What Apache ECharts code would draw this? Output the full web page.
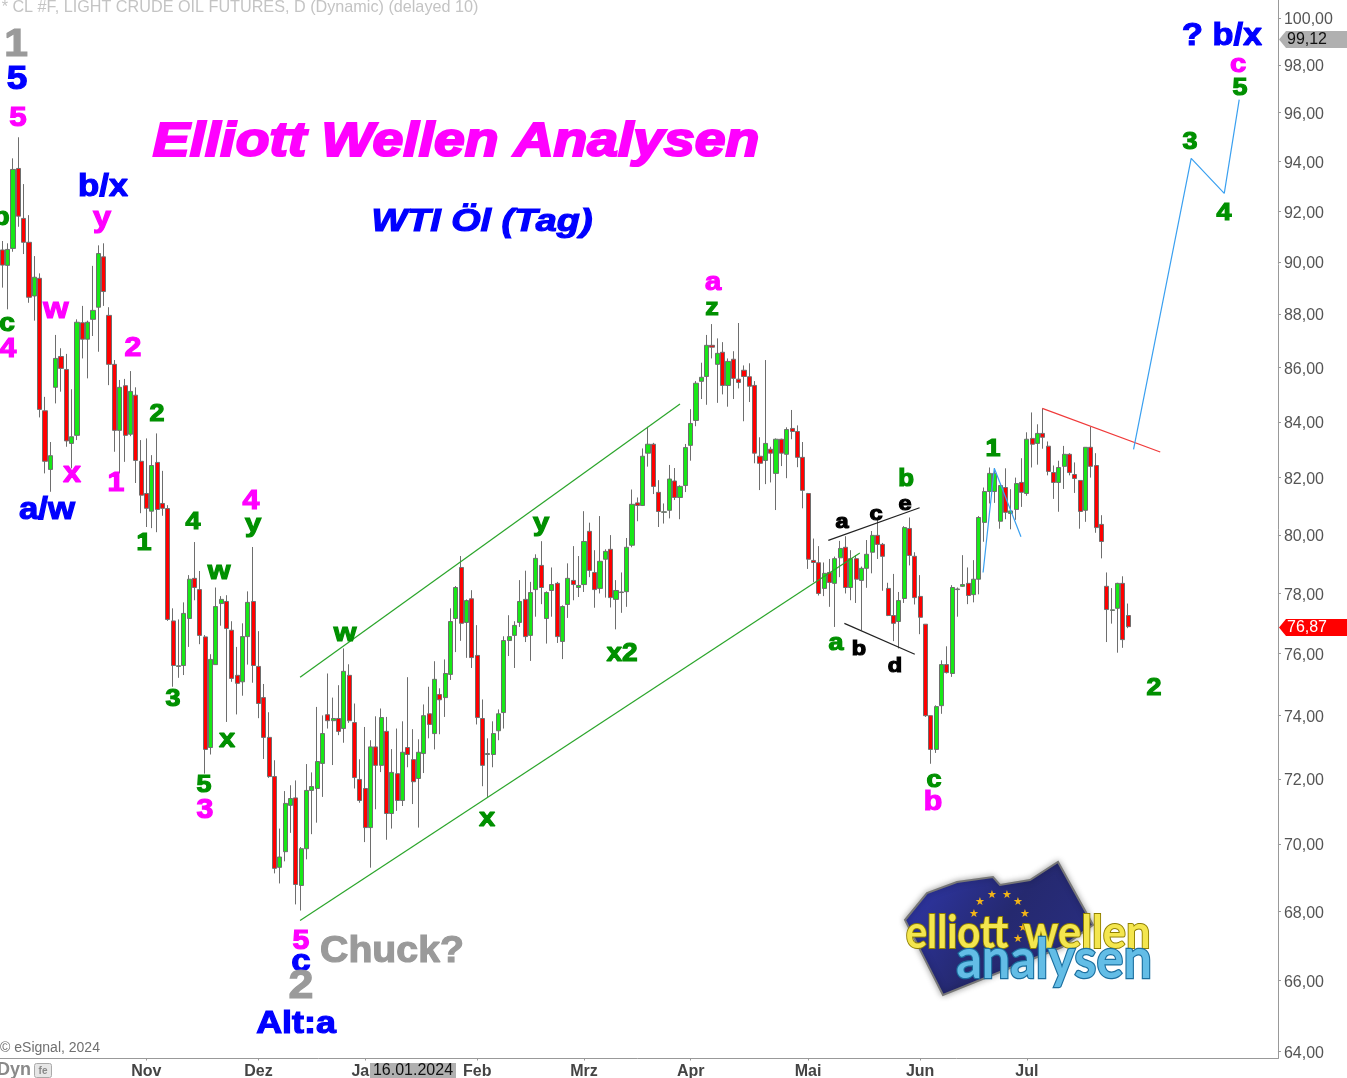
<!DOCTYPE html>
<html><head><meta charset="utf-8">
<style>html,body{margin:0;padding:0;background:#fff;overflow:hidden}#c{width:1347px;height:1078px}</style>
<script src="https://cdn.jsdelivr.net/npm/echarts@6/dist/echarts.min.js"></script>
</head><body><div id="c"></div>
<script>
const opens=[
90.47,89.87,90.53,93.71,91.71,90.77,88.69,89.37,84.40,82.29,
85.26,86.40,85.92,83.22,83.51,87.67,87.05,87.80,88.26,90.20,
87.95,86.11,83.69,85.32,83.55,84.97,82.58,81.44,80.82,82.54,
81.09,80.91,77.08,75.58,75.61,77.16,78.51,78.13,76.55,72.98,
75.64,77.66,77.73,76.77,75.29,75.08,76.56,77.73,75.58,74.57,
73.30,72.07,69.30,69.77,71.18,71.41,68.76,69.86,71.64,71.70,
72.48,74.02,73.83,73.90,73.58,75.29,73.77,71.98,71.70,70.50,
73.00,72.42,73.49,70.93,72.16,71.33,72.98,72.60,72.01,72.79,
74.05,73.42,74.67,74.57,75.32,77.16,78.88,77.03,77.82,75.94,
73.90,72.76,72.76,73.51,74.09,76.43,76.60,77.03,77.80,76.60,
78.13,78.95,77.16,78.10,78.34,76.40,77.63,78.44,78.20,78.30,
80.12,78.71,78.17,79.16,79.50,77.80,78.03,78.06,79.64,81.11,
81.02,82.87,83.19,81.48,80.78,80.85,81.88,81.30,81.72,83.15,
84.05,85.48,85.66,86.82,86.11,86.56,85.33,86.30,85.56,85.89,
85.65,85.33,82.76,82.61,83.01,82.15,83.37,82.83,83.76,83.65,
82.72,81.44,79.12,79.04,78.17,78.71,78.34,79.21,79.57,78.20,
79.18,78.44,78.85,79.40,79.98,79.67,78.17,77.26,77.06,77.83,
80.22,79.26,77.90,76.97,73.99,72.92,74.31,75.64,75.35,78.13,
78.24,78.34,77.96,78.48,80.43,81.51,81.51,80.47,81.65,80.74,
80.88,81.83,81.44,83.40,83.22,83.58,83.12,82.18,81.83,82.40,
82.83,82.11,81.90,80.85,83.08,82.43,80.36,78.24,77.43,77.50,
78.34,77.26];
const closes=[
89.88,90.49,93.67,91.80,90.77,88.64,89.41,84.45,82.58,82.78,
86.33,85.96,83.31,83.46,87.69,87.05,87.69,88.14,90.33,88.86,
86.11,83.69,85.26,83.51,85.11,82.61,81.38,80.92,82.43,80.88,
80.92,77.13,75.61,75.60,77.33,78.48,78.20,76.60,72.92,75.81,
77.56,77.80,76.83,75.19,75.03,76.56,77.70,75.61,74.38,73.30,
72.07,69.27,69.61,71.24,71.39,68.79,69.86,71.64,71.76,72.54,
73.42,73.83,73.90,73.49,75.42,73.83,72.04,71.33,70.50,73.00,
72.42,73.93,70.93,72.20,71.33,72.83,72.76,71.91,72.83,73.99,
73.71,75.16,74.50,75.35,77.06,78.20,77.00,77.76,75.87,73.93,
72.42,72.79,73.42,74.05,76.43,76.56,76.93,77.73,76.56,78.03,
79.19,78.20,78.03,78.30,76.56,77.56,78.51,78.30,78.27,79.77,
78.78,78.13,79.09,79.43,77.86,78.10,78.05,79.57,81.06,81.02,
82.76,83.19,81.69,80.81,80.80,81.95,81.30,81.69,83.07,83.94,
85.41,85.63,86.82,86.75,86.52,85.33,86.22,85.59,85.44,85.66,
85.30,82.87,82.51,83.22,82.87,83.37,82.87,83.72,83.65,82.72,
81.55,79.16,79.05,78.00,78.68,78.37,79.18,79.53,78.20,79.18,
78.48,78.85,79.33,79.98,79.67,79.26,77.26,77.00,77.76,80.25,
79.29,77.86,77.20,73.99,72.92,74.28,75.64,75.38,78.20,78.15,
78.30,77.93,78.48,80.60,81.51,82.15,82.15,81.72,80.78,80.83,
81.79,81.48,83.37,83.19,83.58,83.44,82.22,81.83,82.36,82.83,
82.18,81.97,80.81,83.08,82.40,80.25,79.77,77.46,77.45,78.34,
76.46,76.89];
const highs=[
90.82,90.73,94.12,94.98,93.08,91.84,90.23,89.56,84.91,83.27,
87.21,86.71,86.50,85.19,87.80,88.31,87.75,89.85,90.65,90.73,
88.26,86.27,85.53,85.57,85.86,85.26,83.34,83.40,82.80,83.58,
82.24,81.03,77.50,77.13,77.70,78.62,79.75,78.76,76.61,75.98,
78.20,77.91,77.94,77.07,76.22,77.00,78.07,79.58,76.74,75.01,
74.10,72.58,70.47,71.62,71.80,71.95,69.91,72.46,72.20,74.27,
74.00,75.35,74.57,74.97,76.17,75.65,74.38,72.61,73.63,73.21,
73.97,74.22,73.95,72.93,73.58,73.81,75.23,73.56,73.24,74.35,
74.92,75.75,74.87,75.81,77.50,78.25,79.27,77.80,78.11,76.94,
74.51,73.27,73.81,74.19,76.57,77.27,77.07,78.45,78.77,78.39,
79.33,79.78,78.07,78.88,78.39,77.60,79.02,79.61,79.27,80.82,
80.42,79.47,80.65,79.50,79.99,78.45,78.71,79.89,81.58,81.30,
83.04,83.82,83.24,81.91,81.09,82.45,82.34,81.73,83.20,84.46,
85.49,86.17,87.21,87.62,87.08,86.94,86.33,86.60,87.66,86.07,
86.15,85.49,83.44,86.27,83.10,83.40,83.39,83.80,84.43,83.87,
83.27,81.46,79.87,79.61,79.05,79.17,79.25,79.79,79.95,79.47,
79.30,78.91,79.82,80.13,80.57,79.72,78.36,78.66,78.05,80.30,
80.60,79.40,78.62,76.97,73.99,74.32,75.78,76.24,78.28,78.20,
79.30,78.88,79.13,80.65,81.65,82.36,82.33,81.73,82.33,81.59,
82.00,82.69,83.62,84.34,83.91,84.49,83.29,82.43,82.60,83.13,
82.87,82.54,81.91,83.08,83.82,82.87,80.68,78.71,78.18,78.36,
78.58,77.66];
const lows=[
89.01,88.18,90.40,91.38,90.31,88.43,87.75,84.16,82.15,81.50,
84.67,85.10,83.10,82.33,83.34,86.33,85.59,87.17,86.58,88.31,
85.34,82.92,82.15,82.56,83.48,81.81,80.75,80.27,80.23,80.09,
80.66,77.08,74.92,75.21,75.30,76.22,77.77,76.31,72.16,72.76,
75.64,76.92,73.79,75.08,74.03,74.63,75.64,75.05,73.91,72.62,
72.03,69.12,68.82,69.48,70.34,68.20,68.02,69.54,70.30,70.65,
71.44,73.58,72.43,73.37,73.13,73.76,71.70,71.26,70.06,69.29,
71.06,72.21,70.13,70.47,71.01,71.16,72.36,71.22,70.50,72.18,
73.27,72.92,73.40,73.95,75.14,76.05,76.42,75.86,75.53,73.71,
71.77,71.44,72.36,73.21,73.58,75.92,75.53,76.88,76.38,75.76,
77.22,77.64,76.33,77.22,76.35,75.82,77.18,77.77,77.88,78.05,
78.55,77.52,78.00,77.86,77.53,76.80,77.35,77.55,79.57,80.47,
81.00,82.39,81.42,80.27,80.39,80.57,81.21,80.54,81.49,82.60,
83.84,84.83,84.62,86.33,84.69,85.00,84.55,84.83,85.22,84.02,
84.72,82.51,81.56,81.77,81.83,80.86,82.41,81.98,83.37,82.37,
80.92,78.83,78.38,77.93,77.91,77.55,76.88,78.55,78.00,77.77,
77.68,76.77,78.19,78.68,79.17,78.09,77.24,76.41,76.17,77.68,
78.95,77.63,76.64,73.95,72.47,72.81,74.05,75.35,75.24,77.22,
78.22,77.64,77.70,77.97,79.76,81.09,81.11,80.21,80.54,80.19,
80.52,80.97,81.36,82.36,82.46,83.03,82.08,81.25,80.80,81.60,
82.08,81.46,80.21,80.45,82.00,80.07,79.19,76.38,76.99,76.03,
76.19,76.84];

const monthTicks=[27,48,68,89,109,129,151,172,192];
const monthNames=['Nov','Dez','Jan','Feb','Mrz','Apr','Mai','Jun','Jul'];
const priceTicks=[64,66,68,70,72,74,76,78,80,82,84,86,88,90,92,94,96,98,100];
const slots=239;

// trend lines: [bar position, price]
const channelUpper=[[55.8,75.23],[127,84.65]];
const channelLower=[[55.8,67.73],[160.7,79.37]];
const triangleUpper=[[154.8,79.81],[171.9,80.94]];
const triangleLower=[[157.8,77.00],[171,75.98]];
const waveOne=[[183.8,78.71],[185.9,82.33],[190.9,79.93]];
const resistance=[[194.9,84.49],[217,82.91]];
const projection=[[212,83.01],[222.8,94.12],[229,92.71],[231.8,96.54]];

const M='#ff00ff',B='#0000ff',G='#009000',K='#000000',Y='#9a9a9a';
const waveLabels=[
['1',16,44,Y,38],['5',17,78,B,33],['5',18,116,M,28],['b',1,216,G,25],['c',7,322,G,25],['4',8,348,M,27],
['b/x',103,185,B,31],['y',102,217,M,29],['w',56,308,M,29],['2',133,347,M,27],['2',157,412,G,24],
['x',72,472,M,29],['1',116,482,M,27],['a/w',47,508,B,31],['1',144,541,G,24],['4',193,520,G,24],
['4',251,500,M,27],['y',253,523,G,26],['w',219,570,G,26],['3',173,697,G,24],['x',227,738,G,26],
['5',204,783,G,24],['3',205,809,M,27],['w',345,632,G,26],['y',541,522,G,26],['x2',622,652,G,25],
['x',487,817,G,26],['a',713,281,M,26],['z',712,306,G,24],['b',906,478,G,23],['e',905,502,K,21],
['c',876,512,K,21],['a',842,520,K,21],['a',836,641,G,24],['b',859,647,K,21],['d',895,664,K,21],
['c',934,778,G,24],['b',933,801,M,27],['1',993,447,G,24],['2',1154,686,G,24],['3',1190,140,G,24],
['4',1224,211,G,24],['5',1240,86,G,24],['c',1238,63,M,26],['? b/x',1222,34,B,32,1.07],
['5',301,940,M,27],['c',301,960,B,31],['2',301,985,Y,40],['Chuck?',392,950,Y,37,1.06],['Alt:a',296,1022,B,32]
];

const candles=opens.map((o,i)=>[o,closes[i],lows[i],highs[i]]);
const categories=Array.from({length:slots},(_,i)=>{const k=monthTicks.indexOf(i);return k>=0?monthNames[k]:'';});
const FONT='"Liberation Sans",Arial,sans-serif';

function lineSeries(data,color,w){
  return {type:'line',xAxisIndex:1,yAxisIndex:0,data,showSymbol:false,silent:true,animation:false,z:3,
    lineStyle:{color,width:w||1.2}};
}
const g=[];
function txt(text,x,y,fill,font,extra,z,sx){
  const e={type:'text',z:z||50,silent:true,style:Object.assign({text,x,y:y+2,fill,font,textAlign:'center',textVerticalAlign:'middle'},extra||{})};
  if(sx){e.scaleX=sx;e.originX=x;e.originY=y+2;}
  g.push(e);
}
waveLabels.forEach(l=>txt(l[0],l[1],l[2],l[3],'bold '+l[4]+'px '+FONT,{stroke:l[3],lineWidth:1.2},50,l[5]||1.12));
txt('Elliott Wellen Analysen',456,141,M,'italic bold 48px '+FONT,{stroke:M,lineWidth:2.2},50,1.15);
txt('WTI Öl (Tag)',482,220,B,'italic bold 32px '+FONT,{stroke:B,lineWidth:1.2},50,1.18);
txt('* CL #F, LIGHT CRUDE OIL FUTURES, D (Dynamic) (delayed 10)',240,6,'#c4c4c4','16.2px '+FONT);
txt('© eSignal, 2024',50,1046,'#707070','14px '+FONT);
txt('Dyn',14,1068,'#8a8a8a','bold 18px '+FONT);
g.push({type:'rect',z:50,silent:true,shape:{x:34.5,y:1063.5,width:17,height:14,r:2},style:{fill:'#e6e6e6',stroke:'#aaa',lineWidth:1}});
txt('fe',43,1069,'#888','bold 10px '+FONT);
// x axis line extension to the price scale
g.push({type:'line',z:2,silent:true,shape:{x1:1274,y1:1058.5,x2:1278,y2:1058.5},style:{stroke:'#999',lineWidth:1}});
// date tag
g.push({type:'rect',z:60,silent:true,shape:{x:370,y:1063,width:86,height:16},style:{fill:'#b0b0b0'}});
txt('16.01.2024',413,1069,'#111','16px '+FONT,{},61);
// price tags
g.push({type:'polygon',z:60,silent:true,shape:{points:[[1279,39.5],[1286,31],[1347,31],[1347,48],[1286,48]]},style:{fill:'#b0b0b0'}});
txt('99,12',1307,38,'#111','16px '+FONT,{},61);
g.push({type:'polygon',z:60,silent:true,shape:{points:[[1279,627.5],[1286,619],[1347,619],[1347,636],[1286,636]]},style:{fill:'#ff0000'}});
txt('76,87',1307,626,'#fff','16px '+FONT,{},61);
// logo
g.push({type:'polygon',z:40,silent:true,shape:{points:[[905,920],[927,893],[957,882],[993,877],[1000,885],[1030,880],[1058,862],[1093,925],[1062,947],[943,995]]},
  style:{fill:new echarts.graphic.LinearGradient(0,0,1,1,[{offset:0,color:'#3038b0'},{offset:0.5,color:'#25296f'},{offset:1,color:'#2a2f86'}]),stroke:'#777',lineWidth:2,shadowBlur:6,shadowColor:'rgba(0,0,0,.35)'}});
[[980,900],[992,893],[1007,893],[1018,900],[1025,912],[1023,926],[1018,937],[974,912]].forEach(p=>txt('★',p[0],p[1],'#f2b418','11px "DejaVu Sans"',{},42));
const logoFont='"Lato","Noto Sans",sans-serif';
txt('elliott',957,931,'#f4e64e','bold 46px '+logoFont,{stroke:'#8f7f00',lineWidth:2},45,0.875);
txt('wellen',1087,931,'#f4e64e','bold 46px '+logoFont,{stroke:'#8f7f00',lineWidth:2},45,0.945);
txt('analysen',1054,958,'#63bde6','bold 56px '+logoFont,{stroke:'#1c6f9f',lineWidth:2.5},46,0.9);

const chart=echarts.init(document.getElementById('c'),null,{renderer:'canvas',width:1347,height:1078});
chart.setOption({
  animation:false,backgroundColor:'#fff',
  grid:{left:-0.34,top:0,width:slots*5.336,height:1058.5,containLabel:false,outerBoundsMode:'none'},
  xAxis:[
    {type:'category',data:categories,boundaryGap:true,
      axisLine:{show:true,lineStyle:{color:'#999',width:1}},
      axisTick:{show:true,alignWithLabel:true,length:2,lineStyle:{color:'#999'},interval:i=>monthTicks.includes(i)},
      axisLabel:{show:true,interval:i=>monthTicks.includes(i),margin:5,color:'#444',fontFamily:FONT,fontWeight:'bold',fontSize:16,hideOverlap:false},
      splitLine:{show:false}},
    {type:'value',show:false,min:-0.5,max:slots-0.5,splitLine:{show:false}}
  ],
  yAxis:[{type:'log',logBase:10,position:'right',offset:3,min:63.81,max:100.78,scale:true,
    axisLine:{show:true,onZero:false,lineStyle:{color:'#999',width:1}},
    axisTick:{show:true,length:3,lineStyle:{color:'#999'},customValues:priceTicks},
    axisLabel:{show:true,margin:2,padding:[0,0,0,4],verticalAlign:'top',lineHeight:4,color:'#555',fontFamily:FONT,fontSize:16,customValues:priceTicks,
      showMinLabel:true,showMaxLabel:true,hideOverlap:false,
      formatter:v=>Number(v).toFixed(2).replace('.',',')},
    splitLine:{show:false},minorTick:{show:false}}],
  series:[
    {type:'candlestick',xAxisIndex:0,yAxisIndex:0,data:candles,barWidth:4.6,z:2,silent:true,
      itemStyle:{color:'#17e817',color0:'#ff0000',borderColor:'#6e6e6e',borderColor0:'#6e6e6e',borderColorDoji:'#6e6e6e',borderWidth:1}},
    lineSeries(channelUpper,'#2aa52a'),
    lineSeries(channelLower,'#2aa52a'),
    lineSeries(triangleUpper,'#222'),
    lineSeries(triangleLower,'#222'),
    lineSeries(waveOne,'#3aa0f0'),
    lineSeries(resistance,'#f03a3a'),
    lineSeries(projection,'#3aa0f0')
  ],
  graphic:g
});
</script></body></html>
